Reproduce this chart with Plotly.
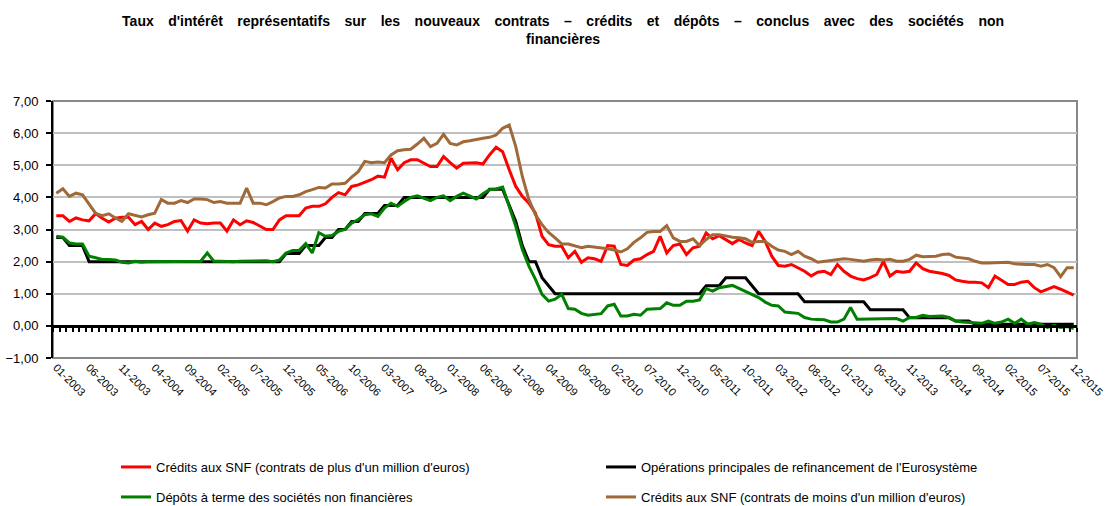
import plotly.graph_objects as go

# Monthly categories 01-2003 .. 12-2015
months = [f"{m:02d}-{y}" for y in range(2003, 2016) for m in range(1, 13)]

tick_labels = ["01-2003", "06-2003", "11-2003", "04-2004", "09-2004", "02-2005", "07-2005",
               "12-2005", "05-2006", "10-2006", "03-2007", "08-2007", "01-2008", "06-2008",
               "11-2008", "04-2009", "09-2009", "02-2010", "07-2010", "12-2010", "05-2011",
               "10-2011", "03-2012", "08-2012", "01-2013", "06-2013", "11-2013", "04-2014",
               "09-2014", "02-2015", "07-2015", "12-2015"]

credits_plus_1m = [
    3.43, 3.43, 3.25, 3.36, 3.30, 3.27, 3.50, 3.35, 3.23, 3.35,
    3.38, 3.38, 3.15, 3.25, 3.00, 3.20, 3.10, 3.15, 3.25, 3.28,
    2.95, 3.30, 3.20, 3.18, 3.20, 3.20, 2.95, 3.30, 3.15, 3.27,
    3.22, 3.12, 3.00, 3.00, 3.30, 3.43, 3.43, 3.43, 3.67, 3.72,
    3.72, 3.80, 4.00, 4.15, 4.08, 4.34, 4.39, 4.47, 4.55, 4.66,
    4.63, 5.22, 4.86, 5.08, 5.17, 5.17, 5.06, 4.96, 4.96, 5.27,
    5.08, 4.91, 5.06, 5.08, 5.08, 5.04, 5.32, 5.56, 5.42, 4.86,
    4.34, 4.03, 3.82, 3.51, 2.79, 2.53, 2.48, 2.48, 2.12, 2.32,
    1.98, 2.12, 2.09, 2.01, 2.50, 2.48, 1.91, 1.88, 2.05, 2.09,
    2.22, 2.32, 2.79, 2.27, 2.50, 2.55, 2.22, 2.43, 2.48, 2.89,
    2.71, 2.81, 2.69, 2.56, 2.69, 2.58, 2.50, 2.94, 2.63, 2.17,
    1.88, 1.86, 1.91, 1.81, 1.70, 1.55, 1.67, 1.70, 1.60, 1.91,
    1.70, 1.55, 1.47, 1.43, 1.50, 1.60, 2.01, 1.55, 1.70, 1.67,
    1.70, 1.96, 1.78, 1.70, 1.67, 1.63, 1.57, 1.43, 1.39, 1.36,
    1.36, 1.34, 1.19, 1.55, 1.42, 1.29, 1.29, 1.36, 1.39, 1.19,
    1.06, 1.14, 1.22, 1.14, 1.05, 0.96]

refi_eurosysteme = [
    2.75, 2.75, 2.50, 2.50, 2.50, 2.00, 2.00, 2.00, 2.00, 2.00,
    2.00, 2.00, 2.00, 2.00, 2.00, 2.00, 2.00, 2.00, 2.00, 2.00,
    2.00, 2.00, 2.00, 2.00, 2.00, 2.00, 2.00, 2.00, 2.00, 2.00,
    2.00, 2.00, 2.00, 2.00, 2.00, 2.25, 2.25, 2.25, 2.50, 2.50,
    2.50, 2.75, 2.75, 3.00, 3.00, 3.25, 3.25, 3.50, 3.50, 3.50,
    3.75, 3.75, 3.75, 4.00, 4.00, 4.00, 4.00, 4.00, 4.00, 4.00,
    4.00, 4.00, 4.00, 4.00, 4.00, 4.00, 4.25, 4.25, 4.25, 3.75,
    3.25, 2.50, 2.00, 2.00, 1.50, 1.25, 1.00, 1.00, 1.00, 1.00,
    1.00, 1.00, 1.00, 1.00, 1.00, 1.00, 1.00, 1.00, 1.00, 1.00,
    1.00, 1.00, 1.00, 1.00, 1.00, 1.00, 1.00, 1.00, 1.00, 1.25,
    1.25, 1.25, 1.50, 1.50, 1.50, 1.50, 1.25, 1.00, 1.00, 1.00,
    1.00, 1.00, 1.00, 1.00, 0.75, 0.75, 0.75, 0.75, 0.75, 0.75,
    0.75, 0.75, 0.75, 0.75, 0.50, 0.50, 0.50, 0.50, 0.50, 0.50,
    0.25, 0.25, 0.25, 0.25, 0.25, 0.25, 0.25, 0.15, 0.15, 0.15,
    0.05, 0.05, 0.05, 0.05, 0.05, 0.05, 0.05, 0.05, 0.05, 0.05,
    0.05, 0.05, 0.05, 0.05, 0.05, 0.05]

depots_terme = [
    2.79, 2.76, 2.58, 2.55, 2.55, 2.17, 2.12, 2.07, 2.07, 2.05,
    1.98, 1.96, 2.01, 1.98, 2.00, 2.00, 2.00, 2.00, 2.01, 2.01,
    2.01, 2.01, 2.01, 2.27, 2.01, 2.01, 2.00, 2.00, 2.01, 2.01,
    2.01, 2.01, 2.03, 2.00, 2.05, 2.27, 2.35, 2.35, 2.56, 2.27,
    2.90, 2.79, 2.81, 2.94, 3.00, 3.20, 3.31, 3.46, 3.49, 3.41,
    3.67, 3.82, 3.72, 3.87, 4.00, 4.05, 3.98, 3.90, 4.00, 4.05,
    3.90, 4.03, 4.13, 4.05, 3.95, 4.11, 4.24, 4.26, 4.32, 3.72,
    3.10, 2.38, 1.86, 1.45, 0.98, 0.77, 0.83, 0.98, 0.54, 0.52,
    0.39, 0.33, 0.36, 0.38, 0.62, 0.67, 0.31, 0.31, 0.36, 0.33,
    0.52, 0.54, 0.54, 0.72, 0.64, 0.64, 0.77, 0.77, 0.81, 1.16,
    1.08, 1.19, 1.22, 1.26, 1.17, 1.08, 0.98, 0.88, 0.74, 0.64,
    0.62, 0.43, 0.41, 0.39, 0.26, 0.21, 0.20, 0.19, 0.12, 0.12,
    0.21, 0.57, 0.21, 0.21, 0.21, 0.21, 0.21, 0.23, 0.23, 0.15,
    0.26, 0.26, 0.33, 0.29, 0.31, 0.31, 0.26, 0.15, 0.12, 0.10,
    0.10, 0.08, 0.15, 0.08, 0.12, 0.21, 0.08, 0.21, 0.05, 0.10,
    0.05, -0.05, 0.02, -0.05, -0.02, -0.08]

credits_moins_1m = [
    4.13, 4.27, 4.03, 4.13, 4.08, 3.77, 3.50, 3.43, 3.49, 3.36,
    3.25, 3.49, 3.43, 3.39, 3.46, 3.51, 3.93, 3.82, 3.82, 3.90,
    3.84, 3.95, 3.95, 3.93, 3.84, 3.87, 3.82, 3.82, 3.82, 4.29,
    3.82, 3.82, 3.77, 3.87, 3.98, 4.03, 4.03, 4.08, 4.18, 4.24,
    4.31, 4.29, 4.42, 4.42, 4.44, 4.63, 4.80, 5.12, 5.08, 5.10,
    5.08, 5.32, 5.45, 5.48, 5.50, 5.66, 5.84, 5.58, 5.68, 5.96,
    5.68, 5.63, 5.73, 5.76, 5.81, 5.84, 5.87, 5.94, 6.15, 6.25,
    5.58, 4.65, 3.93, 3.46, 3.15, 2.91, 2.74, 2.55, 2.55, 2.50,
    2.43, 2.48, 2.46, 2.43, 2.40, 2.36, 2.30, 2.40, 2.60, 2.74,
    2.91, 2.94, 2.94, 3.12, 2.74, 2.63, 2.63, 2.71, 2.50, 2.69,
    2.84, 2.84, 2.79, 2.76, 2.74, 2.71, 2.60, 2.63, 2.63, 2.48,
    2.36, 2.32, 2.22, 2.32, 2.17, 2.09, 1.98, 2.01, 2.04, 2.07,
    2.09, 2.07, 2.04, 2.01, 2.05, 2.07, 2.05, 2.07, 2.01, 2.01,
    2.07, 2.20, 2.15, 2.17, 2.17, 2.22, 2.24, 2.14, 2.12, 2.09,
    2.01, 1.96, 1.96, 1.96, 1.96, 1.98, 1.93, 1.91, 1.91, 1.91,
    1.86, 1.91, 1.81, 1.53, 1.81, 1.81]

series_names = ["Crédits aux SNF (contrats de plus d'un million d'euros)",
                "Opérations principales de refinancement de l'Eurosystème",
                "Dépôts à terme des sociétés non financières",
                "Crédits aux SNF (contrats de moins d'un million d'euros)"]
series_values = [credits_plus_1m, refi_eurosysteme, depots_terme, credits_moins_1m]
series_colors = ["#FF0000", "#000000", "#008000", "#A0693A"]
series_legends = ["legend", "legend2", "legend3", "legend4"]

W, H = 1115, 506
L, R, T, B = 53, 38, 101, 148
ymin, ymax = -1, 7

fig = go.Figure()
for name, vals, col, lg in zip(series_names, series_values, series_colors, series_legends):
    fig.add_trace(go.Scatter(x=months, y=vals, mode="lines", name=name,
                             line=dict(color=col, width=3), legend=lg))

# invisible trace to host the category axis drawn at y = 0
fig.add_trace(go.Scatter(x=[0, len(months) - 1], y=[0, 0], xaxis="x2", mode="lines",
                         line=dict(width=0), opacity=0, showlegend=False, hoverinfo="skip"))

legend_font = dict(size=13, family="Liberation Sans Narrow, Arial Narrow, Liberation Sans, sans-serif",
                   color="black")


def legend_box(px, py):
    return dict(xref="container", yref="container", x=px / W, y=1 - py / H,
                xanchor="left", yanchor="middle", itemwidth=30, font=legend_font,
                bgcolor="rgba(0,0,0,0)")


gap = " \u00a0\u00a0\u2009"
title_words = ["Taux", "d'intérêt", "représentatifs", "sur", "les", "nouveaux", "contrats", "–",
               "crédits", "et", "dépôts", "–", "conclus", "avec", "des", "sociétés", "non"]
title_text = gap.join(title_words) + "<br>financières"

fig.update_layout(
    width=W, height=H,
    margin=dict(l=L, r=R, t=T, b=B, autoexpand=False),
    paper_bgcolor="white", plot_bgcolor="white",
    separators=", ",
    font=dict(family="Liberation Sans, Arial, sans-serif", color="black"),
    title=dict(text=title_text, xref="container", yref="container",
               x=0.505, xanchor="center", y=1 - 26 / H, yanchor="middle",
               font=dict(size=14, family="Liberation Sans, Arial, sans-serif", color="black", weight="bold")),
    xaxis=dict(type="category", range=[-0.5, len(months) - 0.5], automargin=False,
               tickmode="array", tickvals=tick_labels, ticktext=tick_labels,
               tickangle=45, ticks="", showgrid=False, showline=False, zeroline=False,
               tickfont=dict(size=11, color="black")),
    xaxis2=dict(overlaying="x", anchor="free", position=(0 - ymin) / (ymax - ymin),
                range=[-0.5, len(months) - 0.5], tickmode="linear", tick0=-0.5, dtick=1,
                ticks="outside", ticklen=4, tickwidth=2, tickcolor="black",
                showticklabels=False, showline=True, linecolor="black", linewidth=3,
                showgrid=False, zeroline=False, automargin=False),
    yaxis=dict(range=[ymin, ymax], dtick=1, tickformat=".2f", automargin=False,
               showgrid=True, gridcolor="#C0C0C0", gridwidth=2,
               showline=True, linecolor="black", linewidth=2,
               ticks="outside", ticklen=5, tickcolor="black", tickwidth=2,
               ticklabelstandoff=5,
               zeroline=False, tickfont=dict(size=13, color="black")),
    legend=legend_box(116, 467),
    legend2=legend_box(601, 467),
    legend3=legend_box(116, 497),
    legend4=legend_box(601, 497),
    shapes=[dict(type="rect", xref="paper", yref="paper", x0=0, y0=0, x1=1, y1=1,
                 line=dict(color="#888888", width=2), layer="below")],
)

fig.write_html("out.html", config={"displayModeBar": False},
               post_script="document.body.style.margin='0';")
